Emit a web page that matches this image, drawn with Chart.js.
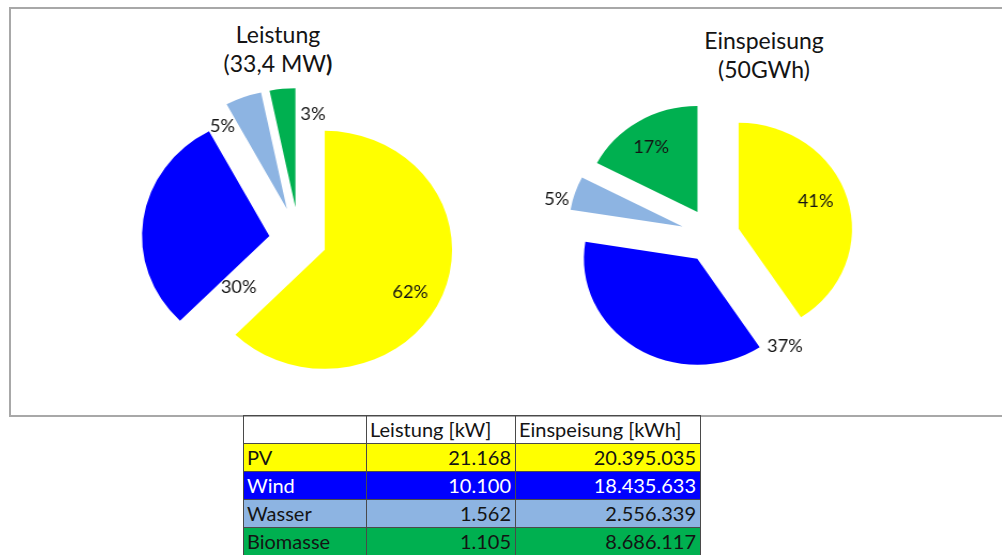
<!DOCTYPE html>
<html>
<head>
<meta charset="utf-8">
<script src="https://cdn.jsdelivr.net/npm/chart.js@4.4.0/dist/chart.umd.min.js"></script>
<style>
  body { margin: 0; width: 1002px; height: 555px; overflow: hidden; background: #fff; position: relative; font-family: Lato, 'Open Sans', sans-serif; color: #141414; }
  .frame { position: absolute; left: 9px; top: 7px; width: 1010px; height: 406px; border: 2px solid #a8a8a8; }
  .title { position: absolute; width: 300px; text-align: center; font-size: 23px; line-height: 29px; }
  .pie { position: absolute; width: 340px; height: 340px; transform: scaleX(1.07); }
  table { position: absolute; left: 243px; top: 415px; border-collapse: collapse; table-layout: fixed; width: 457px; font-size: 20px; }
  td { border: 1px solid #4a4a4a; height: 27px; padding: 0 4px 0 3px; white-space: nowrap; overflow: hidden; line-height: 27px; }
  td.num { text-align: right; }
</style>
</head>
<body>
<div class="frame"></div>
<div class="title" style="left:128px;top:20px">Leistung<br>(33,4 MW<b>)</b></div>
<div class="title" style="left:614px;top:26px">Einspeisung<br>(50GWh)</div>
<div class="pie" style="left:129px;top:70px"><canvas id="leistungPie"></canvas></div>
<div class="pie" style="left:543px;top:66px"><canvas id="einspeisungPie"></canvas></div>
<table id="dataTable"></table>

<script>
const categories = ['PV', 'Wind', 'Wasser', 'Biomasse'];
const leistungKW = [21168, 10100, 1562, 1105];
const einspeisungKWh = [20395035, 18435633, 2556339, 8686117];
const columnHeaders = ['', 'Leistung [kW]', 'Einspeisung [kWh]'];

const sliceColors = ['#ffff00', '#0000ff', '#8db4e2', '#00b050'];
const rowTextColors = ['#141414', '#ffffff', '#141414', '#141414'];

// keep every slice at the same radius although the exploded ones get bigger in Chart.js
const evenRadius = {
    id: 'evenRadius',
    afterDatasetUpdate(chart, args, opts) {
        args.meta.data.forEach(arc => {
            const shift = (arc.options.offset || 0) / 4;
            const grow = shift * (1 - Math.sin(Math.min(Math.PI, arc.circumference)));
            arc.outerRadius = opts.radius - grow;
            const widen = grow / Math.PI / opts.radius / 2;
            arc.startAngle -= widen;
            arc.endAngle += widen;
        });
    }
};

const pctLabels = {
    id: 'pctLabels',
    afterDatasetsDraw(chart, args, opts) {
        const ctx = chart.ctx;
        const arcs = chart.getDatasetMeta(0).data;
        const values = chart.data.datasets[0].data;
        const total = values.reduce((a, b) => a + b, 0);
        const radius = chart.options.plugins.evenRadius.radius;
        ctx.save();
        ctx.font = '17px Lato';
        ctx.fillStyle = '#141414';
        ctx.textAlign = 'center';
        ctx.textBaseline = 'middle';
        arcs.forEach((arc, i) => {
            const [frac, rf] = opts.at[i];
            const a = arc.startAngle + frac * (arc.endAngle - arc.startAngle);
            const r = rf * radius;
            ctx.fillText(Math.round(values[i] / total * 100) + '%', arc.x + Math.cos(a) * r, arc.y + Math.sin(a) * r);
        });
        ctx.restore();
    }
};

function makePie(id, values, offsets, radius, labelAt) {
    return new Chart(document.getElementById(id), {
        type: 'pie',
        data: {
            labels: categories,
            datasets: [{
                data: values,
                backgroundColor: sliceColors,
                borderWidth: 0,
                offset: offsets
            }]
        },
        options: {
            responsive: true,
            maintainAspectRatio: false,
            animation: false,
            events: [],
            layout: { padding: 0 },
            plugins: {
                legend: { display: false },
                tooltip: { enabled: false },
                evenRadius: { radius: radius },
                pctLabels: { at: labelAt }
            }
        },
        plugins: [evenRadius, pctLabels]
    });
}

makePie('leistungPie', leistungKW, [104, 112, 132, 132], 119,
    [[0.52, 0.98], [0.05, 0.62], [-0.1, 1.13], [1.25, 1.06]]);
makePie('einspeisungPie', einspeisungKWh, [100, 108, 120, 112], 106,
    [[0.48, 0.96], [0.02, 1.22], [0.3, 1.42], [0.47, 1.0]]);

function fmt(n) {
    return String(n).replace(/\B(?=(\d{3})+(?!\d))/g, '.');
}

const table = document.getElementById('dataTable');
let html = '<colgroup><col style="width:123px"><col style="width:149px"><col style="width:185px"></colgroup>';
html += '<tr>' + columnHeaders.map(h => '<td>' + h + '</td>').join('') + '</tr>';
categories.forEach((c, i) => {
    const style = 'background:' + sliceColors[i] + ';color:' + rowTextColors[i];
    html += '<tr style="' + style + '"><td>' + c + '</td><td class="num">' + fmt(leistungKW[i]) +
        '</td><td class="num">' + fmt(einspeisungKWh[i]) + '</td></tr>';
});
table.innerHTML = html;
</script>
</body>
</html>
